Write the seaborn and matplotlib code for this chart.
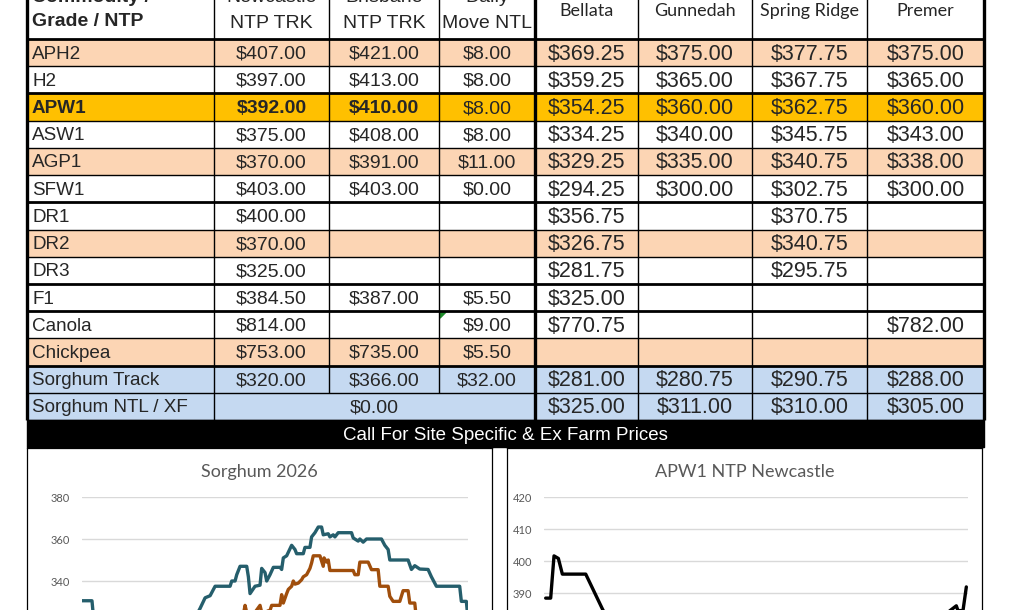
import numpy as np
import pandas as pd
import seaborn as sns
from matplotlib import pyplot as plt
from matplotlib.colors import ListedColormap

sns.set_theme(style="white")
plt.rcParams['font.family'] = ['Liberation Sans', 'DejaVu Sans']

# 表格数据
grades = ['APH2', 'H2', 'APW1', 'ASW1', 'AGP1', 'SFW1', 'DR1', 'DR2', 'DR3',
          'F1', 'Canola', 'Chickpea', 'Sorghum Track', 'Sorghum NTL / XF']
newcastle = [407, 397, 392, 375, 370, 403, 400, 370, 325, 384.5, 814, 753, 320, None]
brisbane = [421, 413, 410, 408, 391, 403, None, None, None, 387, None, 735, 366, None]
daily_move = [8, 8, 8, 8, 11, 0, None, None, None, 5.5, 9, 5.5, 32, None]
ntl_xf_merged = 0.00
bellata = [369.25, 359.25, 354.25, 334.25, 329.25, 294.25, 356.75, 326.75, 281.75,
           325.00, 770.75, None, 281.00, 325.00]
gunnedah = [375, 365, 360, 340, 335, 300, None, None, None, None, None, None, 280.75, 311]
spring_ridge = [377.75, 367.75, 362.75, 345.75, 340.75, 302.75, 370.75, 340.75, 295.75,
                None, None, None, 290.75, 310]
premer = [375, 365, 360, 343, 338, 300, None, None, None, None, 782, None, 288, 305]
row_fill = ['peach', 'white', 'gold', 'white', 'peach', 'white', 'white', 'peach',
            'white', 'white', 'white', 'peach', 'blue', 'blue']

head_left = [('Newcastle', 'NTP TRK'), ('Brisbane', 'NTP TRK'), ('Daily', 'Move NTL')]
head_sites = ['Bellata', 'Gunnedah', 'Spring Ridge', 'Premer']
footer = 'Call For Site Specific & Ex Farm Prices'

# 图表数据 (day index, price)
sorghum_a_day = [0, 6, 7, 11, 31, 51, 63, 69, 71, 74, 77, 80, 89, 90, 92, 93, 95, 99, 100,
                 101, 104, 107, 108, 110, 111, 113, 115, 119, 120, 121, 123, 126, 128, 129,
                 133, 134, 137, 138, 140, 142, 144, 145, 148, 149, 151, 152, 154, 162, 163,
                 166, 167, 169, 171, 180, 182, 184, 185, 196, 198, 200, 203, 208, 210, 213,
                 227, 228, 231, 232]
sorghum_a_val = [330.6, 330.6, 322, 321, 320, 319, 320, 324, 327, 332, 333, 337.5, 337.5,
                 340, 340, 343, 347, 347, 342, 334, 337.5, 338, 346, 344, 340, 343, 346.5,
                 346.5, 345.5, 351, 352, 357, 355, 353, 353, 356, 356, 361, 363, 365.7,
                 365.7, 362, 362.5, 361, 362, 361, 363, 363, 360.5, 359, 360, 358.5, 360,
                 360, 357, 355, 350, 350, 345.5, 347.3, 345.7, 345.5, 342, 337.5, 337.5,
                 330.3, 330.3, 322]
sorghum_b_day = [60, 91, 97, 98, 99, 103, 107, 108, 113, 114, 119, 120, 121, 123, 124, 126,
                 127, 128, 130, 132, 133, 135, 137, 138, 139, 143, 145, 145.5, 147, 148,
                 149, 163, 164, 166, 167, 172, 174, 178, 179, 184, 185, 187, 191, 193, 196,
                 197, 200, 201, 205]
sorghum_b_val = [318, 320, 324, 328.4, 325, 324, 328.4, 325, 326, 328.4, 328.4, 333.5,
                 329.5, 334, 336, 337.5, 340, 338.5, 339, 340.6, 342, 343, 346, 348.6, 352,
                 352, 347, 351, 349, 350, 345, 345, 343, 343, 349, 349, 345.4, 345.4, 337.5,
                 337.5, 332.7, 330.3, 330.3, 335.4, 335.4, 329.5, 329.5, 322, 318]
apw1_day = [1, 4, 6, 8.6, 11, 25, 35, 40, 54, 74, 114, 154, 194, 234, 242, 247, 248, 251, 253]
apw1_val = [388.4, 388.4, 401.6, 400.8, 395.9, 395.9, 385, 380, 376, 374, 372, 375, 378,
            381, 384, 386, 384.5, 384.5, 391.9]

W, H = 1015, 610
fill_colors = {'white': '#FFFFFF', 'peach': '#FCD5B4', 'gold': '#FFC000', 'blue': '#C5D9F1'}
fill_names = list(fill_colors)

fig = plt.figure(figsize=(W / 100, H / 100), dpi=100)
ax = fig.add_axes([0, 0, 1, 1])
ax.set_xlim(0, W)
ax.set_ylim(H, 0)
ax.axis('off')

col_edges = np.array([27, 214, 329, 439, 535, 638, 752, 867, 984])
row_edges = np.linspace(39, 420, len(grades) + 1)
head_top = -20
col_mid = (col_edges[:-1] + col_edges[1:]) / 2
row_mid = (row_edges[:-1] + row_edges[1:]) / 2 + 1.5

# 单元格底色
codes = np.array([[fill_names.index(f)] * (len(col_edges) - 1) for f in row_fill])
ax.pcolormesh(col_edges, row_edges, codes, cmap=ListedColormap(list(fill_colors.values())),
              vmin=-0.5, vmax=len(fill_names) - 0.5)

# 黑色底栏
ax.fill_between([col_edges[0], col_edges[-1]], row_edges[-1], row_edges[-1] + 27, color='black')
ax.text((col_edges[0] + col_edges[-1]) / 2, row_edges[-1] + 15, footer, color='white',
        ha='center', va='center', fontsize=13.5)

# 表格线
thick_rows = {0, 2, 6, 9, 10, 12}
for k, y in enumerate(row_edges):
    ax.hlines(y, col_edges[0], col_edges[-1], color='black', lw=2.0 if k in thick_rows else 1.0)
for k, x in enumerate(col_edges):
    lw = 2.4 if k in (0, 4, len(col_edges) - 1) else 1.0
    y_end = row_edges[-2] if k in (2, 3) else row_edges[-1]
    ax.vlines(x, head_top, y_end, color='black', lw=lw)

# Excel 批注小三角
ax.fill([col_edges[3] + 1, col_edges[3] + 7, col_edges[3] + 1],
        [row_edges[10] + 1, row_edges[10] + 1, row_edges[10] + 7], color='#1E8C2A')

# 表头
ax.text(32, -2, 'Commodity /', ha='left', va='center', fontsize=14, fontweight='bold')
ax.text(32, 22, 'Grade / NTP', ha='left', va='center', fontsize=14, fontweight='bold')
for j, (l1, l2) in enumerate(head_left):
    ax.text(col_mid[j + 1], -2, l1, ha='center', va='center', fontsize=14)
    ax.text(col_mid[j + 1], 24, l2, ha='center', va='center', fontsize=14)
for j, s in enumerate(head_sites):
    ax.text(col_mid[j + 4], 11, s, ha='center', va='center', fontsize=13, family=['Lato'])

# 行标签与数值
for i, g in enumerate(grades):
    ax.text(32, row_mid[i], g, ha='left', va='center', fontsize=13.6,
            fontweight='bold' if g == 'APW1' else 'normal')

columns = [newcastle, brisbane, daily_move, bellata, gunnedah, spring_ridge, premer]
for j, col in enumerate(columns):
    for i, v in enumerate(col):
        if v is None:
            continue
        bold = grades[i] == 'APW1' and j < 2
        ax.text(col_mid[j + 1], row_mid[i], f"${v:.2f}", ha='center', va='center',
                fontsize=14 if j < 3 else 15.5, fontweight='bold' if bold else 'normal')
ax.text((col_edges[1] + col_edges[4]) / 2, row_mid[-1], f"${ntl_xf_merged:.2f}",
        ha='center', va='center', fontsize=14)


# 下方两个折线图
def chart(box, plot, title, series, ylim, yticks, xlim):
    bx0, bx1 = box
    fr = fig.add_axes([bx0 / W, 1 - 700 / H, (bx1 - bx0) / W, 252 / H])
    fr.set_xticks([])
    fr.set_yticks([])
    for sp in fr.spines.values():
        sp.set_color('black')
        sp.set_linewidth(0.9)
    fr.text(0.5, (700 - 472) / 252, title, transform=fr.transAxes, ha='center', va='center',
            fontsize=13, color='#595959', family=['Lato'])

    px0, px1, ptop = plot
    span = (ptop[1] - ptop[0]) / (yticks[1] - yticks[0]) * (ylim[1] - ylim[0])
    pa = fig.add_axes([px0 / W, 1 - (ptop[0] + span) / H, (px1 - px0) / W, span / H])
    pa.patch.set_alpha(0)
    for d, v, c in series:
        df = pd.DataFrame({'day': d, 'price': v})
        sns.lineplot(data=df, x='day', y='price', ax=pa, color=c, linewidth=2.4)
    pa.set_xlim(*xlim)
    pa.set_ylim(*ylim)
    pa.set_yticks(yticks)
    pa.set_xticks([])
    pa.set_xlabel('')
    pa.set_ylabel('')
    pa.set_axisbelow(True)
    pa.yaxis.grid(True, color='#D9D9D9', lw=1)
    sns.despine(ax=pa, left=True, bottom=True)
    pa.tick_params(axis='y', length=0, pad=8.5, labelsize=8, labelcolor='#595959')
    for t in pa.get_yticklabels():
        t.set_family(['Lato'])


chart((27, 492), (82, 468, (497, 539)), 'Sorghum 2026',
      [(sorghum_a_day, sorghum_a_val, '#255E6C'), (sorghum_b_day, sorghum_b_val, '#A04E0C')],
      (300, 380), [300, 320, 340, 360, 380], (0, 232))
chart((507, 982), (544, 968, (497, 529)), 'APW1 NTP Newcastle',
      [(apw1_day, apw1_val, 'black')],
      (370, 420), [370, 380, 390, 400, 410, 420], (0, 254))

fig.savefig('out.png', dpi=100)
